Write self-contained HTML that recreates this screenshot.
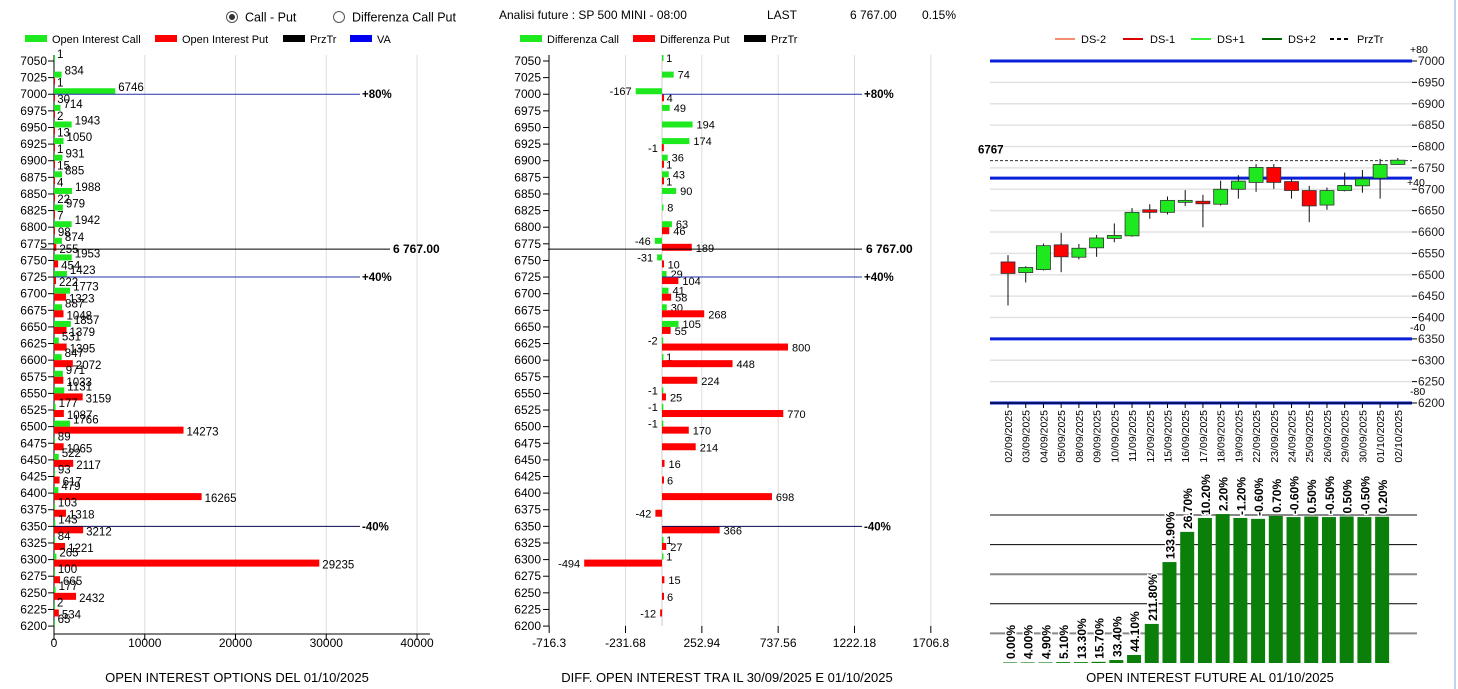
<!DOCTYPE html>
<html><head><meta charset="utf-8"><style>
html,body{margin:0;padding:0;background:#fff;width:1458px;height:689px;overflow:hidden}
svg{display:block;font-family:"Liberation Sans",sans-serif}
</style></head><body>
<svg id="s" width="1458" height="689" viewBox="0 0 1458 689">
<g font-size="12.5" fill="#000">
 <g><circle cx="232" cy="17" r="5.5" fill="#fff" stroke="#555"/><circle cx="232" cy="17" r="3" fill="#333"/><text x="245" y="21.5">Call - Put</text></g>
 <g><circle cx="339" cy="17" r="5.5" fill="#fff" stroke="#555"/><text x="352" y="21.5">Differenza Call Put</text></g>
 <text x="499" y="19" font-size="12">Analisi future : SP 500 MINI - 08:00</text>
 <text x="767" y="19" font-size="12">LAST</text>
 <text x="850" y="19" font-size="12">6 767.00</text>
 <text x="922" y="19" font-size="12">0.15%</text>
</g>
<g font-size="11">
 <rect x="25" y="35" width="22" height="7" fill="#1ee81e"/><text x="52" y="43">Open Interest Call</text>
 <rect x="155" y="35" width="22" height="7" fill="#f00"/><text x="182" y="43">Open Interest Put</text>
 <rect x="283" y="35" width="22" height="7" fill="#000"/><text x="310" y="43">PrzTr</text>
 <rect x="350" y="35" width="22" height="7" fill="#0000f0"/><text x="377" y="43">VA</text>
</g>
<g font-size="11">
 <rect x="520" y="35" width="22" height="7" fill="#1ee81e"/><text x="547" y="43">Differenza Call</text>
 <rect x="633" y="35" width="22" height="7" fill="#f00"/><text x="660" y="43">Differenza Put</text>
 <rect x="744" y="35" width="22" height="7" fill="#000"/><text x="771" y="43">PrzTr</text>
</g>
<g font-size="11">
 <line x1="1055" y1="39" x2="1075" y2="39" stroke="#f09070" stroke-width="2"/><text x="1081" y="43">DS-2</text>
 <line x1="1123" y1="39" x2="1143" y2="39" stroke="#d00" stroke-width="2"/><text x="1150" y="43">DS-1</text>
 <line x1="1191" y1="39" x2="1211" y2="39" stroke="#3e3" stroke-width="2"/><text x="1217" y="43">DS+1</text>
 <line x1="1262" y1="39" x2="1282" y2="39" stroke="#060" stroke-width="2"/><text x="1288" y="43">DS+2</text>
 <line x1="1330" y1="39" x2="1350" y2="39" stroke="#000" stroke-width="2" stroke-dasharray="4,3"/><text x="1357" y="43">PrzTr</text>
</g>
<line x1="1455" y1="0" x2="1455" y2="689" stroke="#7fa7d8"/>
<g id="gL"></g><g id="gM"></g><g id="gR"></g><g id="gB"></g>
<text x="237" y="682" text-anchor="middle" font-size="13">OPEN INTEREST OPTIONS DEL 01/10/2025</text>
<text x="727" y="682" text-anchor="middle" font-size="13">DIFF. OPEN INTEREST TRA IL 30/09/2025 E 01/10/2025</text>
<text x="1210" y="682" text-anchor="middle" font-size="13">OPEN INTEREST FUTURE AL 01/10/2025</text>
</svg>
<script>
const strikes=[7050,7025,7000,6975,6950,6925,6900,6875,6850,6825,6800,6775,6750,6725,6700,6675,6650,6625,6600,6575,6550,6525,6500,6475,6450,6425,6400,6375,6350,6325,6300,6275,6250,6225,6200];
const oiCall=[1,834,6746,714,1943,1050,931,885,1988,979,1942,874,1953,1423,1773,887,1857,531,847,971,1131,177,1766,89,522,93,479,103,143,84,265,100,177,2,65];
const oiPut=[null,1,30,2,13,1,15,4,22,7,98,255,454,222,1323,1048,1379,1395,2072,1033,3159,1087,14273,1065,2117,617,16265,1318,3212,1221,29235,665,2432,534,null];
const diffCall=[1,74,-167,null,49,194,174,36,43,90,8,63,-46,-31,29,41,30,105,-2,1,null,-1,-1,-1,null,null,null,null,null,null,1,1,null,null,null];
const diffPut=[null,null,4,null,null,null,-1,1,1,null,null,46,189,10,104,58,268,55,800,448,224,25,770,170,214,16,6,698,-42,366,27,-494,15,6,-12];
// fix alignment: index map by strike for diffs (as read)
const dCallMap={7050:1,7025:74,7000:-167,6975:49,6950:194,6925:174,6900:36,6875:43,6850:90,6825:8,6800:63,6775:-46,6750:-31,6725:29,6700:41,6675:30,6650:105,6625:-2,6600:1,6550:-1,6525:-1,6500:-1,6325:1,6300:1};
const dPutMap={7000:4,6925:-1,6900:1,6875:1,6800:46,6775:189,6750:10,6725:104,6700:58,6675:268,6650:55,6625:800,6600:448,6575:224,6550:25,6525:770,6500:170,6475:214,6450:16,6425:6,6400:698,6375:-42,6350:366,6325:27,6300:-494,6275:15,6250:6,6225:-12};
const leftTicks=[0,10000,20000,30000,40000];
const midTicks=[-716.3,-231.68,252.94,737.56,1222.18,1706.8];
const przTr=6767;
const vaLevels=[{p:7000,l:"+80%"},{p:6725,l:"+40%"},{p:6350,l:"-40%"}];
const dates=["02/09/2025","03/09/2025","04/09/2025","05/09/2025","08/09/2025","09/09/2025","10/09/2025","11/09/2025","12/09/2025","15/09/2025","16/09/2025","17/09/2025","18/09/2025","19/09/2025","22/09/2025","23/09/2025","24/09/2025","25/09/2025","26/09/2025","29/09/2025","30/09/2025","01/10/2025","02/10/2025"];
const opens=[6530,6505,6512,6570,6541,6563,6585,6591,6652,6646,6670,6672,6665,6700,6716,6751,6718,6697,6663,6697,6708,6726,6758];
const highs=[6546,6520,6573,6598,6572,6593,6620,6656,6665,6683,6698,6687,6720,6733,6759,6759,6724,6708,6704,6739,6745,6771,6773];
const lows=[6428,6482,6510,6506,6536,6542,6576,6589,6631,6641,6661,6611,6662,6678,6694,6701,6678,6623,6652,6695,6692,6678,6757];
const closes=[6503,6517,6568,6542,6562,6586,6592,6646,6646,6674,6674,6666,6700,6719,6751,6716,6697,6661,6697,6709,6724,6758,6768];
const priceTicks=[7000,6950,6900,6850,6800,6750,6700,6650,6600,6550,6500,6450,6400,6350,6300,6250,6200];
const bandLines=[{p:7000,l:"+80"},{p:6726,l:"+40"},{p:6350,l:"-40"},{p:6200,l:"-80"}];
const futOI=[0.02,0.02,0.02,0.03,0.03,0.04,0.1,0.27,1.32,3.41,4.43,4.9,5.03,4.9,4.87,4.97,4.93,4.95,4.93,4.95,4.93,4.94];
const futPct=["0.00%","4.00%","4.90%","5.10%","13.30%","15.70%","33.40%","44.10%","211.80%","133.90%","26.70%","10.20%","2.20%","-1.20%","-0.60%","0.70%","-0.60%","0.50%","-0.50%","0.50%","-0.50%","0.20%"];

const NS="http://www.w3.org/2000/svg";
function mk(p,t,a,txt){const e=document.createElementNS(NS,t);for(const k in a)e.setAttribute(k,a[k]);if(txt!==undefined)e.textContent=txt;p.appendChild(e);return e;}
const yS=s=>61+(7050-s)/25*16.62;

// LEFT
const gL=document.getElementById('gL');
const xL=v=>54+v*0.009075;
leftTicks.forEach(t=>{if(t>0)mk(gL,'line',{x1:xL(t),y1:55,x2:xL(t),y2:634,stroke:'#ddd'});
 mk(gL,'line',{x1:xL(t),y1:634,x2:xL(t),y2:640,stroke:'#000'});
 const e=mk(gL,'text',{x:xL(t),y:647,'text-anchor':'middle','font-size':12},String(t));
 });
mk(gL,'line',{x1:54,y1:55,x2:54,y2:634,stroke:'#000'});
mk(gL,'line',{x1:54,y1:634,x2:430,y2:634,stroke:'#000'});
strikes.forEach((s,i)=>{const y=yS(s);
 mk(gL,'line',{x1:48,y1:y,x2:54,y2:y,stroke:'#000'});
 const t=mk(gL,'text',{x:47,y:y+4,'text-anchor':'end','font-size':12},String(s));
 
 if(oiCall[i]!=null){const b=mk(gL,'rect',{x:54,y:y-6,width:Math.max(1,xL(oiCall[i])-54),height:6,fill:'#1ee81e'});
  
  mk(gL,'text',{x:xL(oiCall[i])+3,y:y-3,'font-size':11.5},String(oiCall[i]));}
 if(oiPut[i]!=null){const b=mk(gL,'rect',{x:54,y:y,width:Math.max(1,xL(oiPut[i])-54),height:7,fill:'#f00'});
  
  mk(gL,'text',{x:xL(oiPut[i])+3,y:y+9,'font-size':11.5},String(oiPut[i]));}
});
const yP=yS(przTr);
mk(gL,'line',{x1:40,y1:yP,x2:390,y2:yP,stroke:'#000'});
mk(gL,'text',{x:393,y:yP+4,'font-size':12,'font-weight':'bold'},"6 767.00");
vaLevels.forEach(v=>{const y=yS(v.p);mk(gL,'line',{x1:54,y1:y,x2:360,y2:y,stroke:v.p==6350?'#0a0a50':'#2233aa'});
 mk(gL,'text',{x:362,y:y+4,'font-size':11.5,'font-weight':'bold'},v.l);});

// MIDDLE
const gM=document.getElementById('gM');
const xM=v=>662+v*0.1575;
midTicks.forEach(t=>{const x=xM(t);
 if(t>-700)mk(gM,'line',{x1:x,y1:55,x2:x,y2:626,stroke:'#ddd'});
 mk(gM,'line',{x1:x,y1:626,x2:x,y2:633,stroke:'#000'});
 const e=mk(gM,'text',{x:x,y:647,'text-anchor':'middle','font-size':12},String(t));
 });
mk(gM,'line',{x1:549,y1:55,x2:549,y2:626,stroke:'#000'});
mk(gM,'line',{x1:662,y1:55,x2:662,y2:626,stroke:'#ccc'});
strikes.forEach(s=>{const y=yS(s);
 mk(gM,'line',{x1:543,y1:y,x2:549,y2:y,stroke:'#000'});
 mk(gM,'text',{x:541,y:y+4,'text-anchor':'end','font-size':12},String(s));
 const c=dCallMap[s],p=dPutMap[s];
 if(c!==undefined){const x1=Math.min(xM(0),xM(c)),w=Math.max(1.5,Math.abs(xM(c)-xM(0)));
  const b=mk(gM,'rect',{x:x1,y:y-6,width:w,height:6,fill:'#1ee81e'});
  
  if(c>=0)mk(gM,'text',{x:xM(c)+4,y:y+1,'font-size':11},String(c));else mk(gM,'text',{x:xM(c)-4,y:y+1,'font-size':11,'text-anchor':'end'},String(c));}
 if(p!==undefined){const x1=Math.min(xM(0),xM(p)),w=Math.max(2,Math.abs(xM(p)-xM(0)));
  const b=mk(gM,'rect',{x:x1,y:y,width:w,height:7,fill:'#f00'});
  
  if(p>=0)mk(gM,'text',{x:xM(p)+4,y:y+8,'font-size':11},String(p));else mk(gM,'text',{x:xM(p)-4,y:y+8,'font-size':11,'text-anchor':'end'},String(p));}
});
mk(gM,'line',{x1:548,y1:yP,x2:862,y2:yP,stroke:'#000'});
mk(gM,'text',{x:866,y:yP+4,'font-size':12,'font-weight':'bold'},"6 767.00");
vaLevels.forEach(v=>{const y=yS(v.p);mk(gM,'line',{x1:662,y1:y,x2:862,y2:y,stroke:v.p==6350?'#0a0a50':'#2233aa'});
 mk(gM,'text',{x:864,y:y+4,'font-size':11.5,'font-weight':'bold'},v.l);});

// RIGHT candles
const gR=document.getElementById('gR');
const yR=p=>61+(7000-p)*0.4275;
const xR=i=>1008+i*17.72;
priceTicks.forEach(p=>{mk(gR,'line',{x1:990,y1:yR(p),x2:1412,y2:yR(p),stroke:'#e2e2e2',"stroke-width":1.5});
 mk(gR,'line',{x1:1412,y1:yR(p),x2:1417,y2:yR(p),stroke:'#000'});
 const e=mk(gR,'text',{x:1418,y:yR(p)+4,'font-size':12,fill:'#222'},String(p));
 });
bandLines.forEach(b=>{mk(gR,'line',{x1:990,y1:yR(b.p),x2:1412,y2:yR(b.p),stroke:'#0a1fd8',"stroke-width":3});
 mk(gR,'text',{x:b.l=="+40"?1407:1410,y:yR(b.p)-(b.l=="+40"?-8:8),'font-size':10.5},b.l);});
mk(gR,'line',{x1:990,y1:yR(przTr),x2:1412,y2:yR(przTr),stroke:'#333','stroke-dasharray':'3,2'});
mk(gR,'text',{x:978,y:yR(przTr)-7,'font-size':11.5,'font-weight':'bold'},"6767");
dates.forEach((d,i)=>{const x=xR(i);
 mk(gR,'line',{x1:x,y1:403,x2:x,y2:408,stroke:'#000'});
 const t=mk(gR,'text',{x:0,y:0,'font-size':10.5,'text-anchor':'end',transform:`translate(${x+4},410) rotate(-90)`},d);
 
 mk(gR,'line',{x1:x,y1:yR(highs[i]),x2:x,y2:yR(lows[i]),stroke:'#111'});
 const up=closes[i]>=opens[i];const top=yR(Math.max(opens[i],closes[i])),bot=yR(Math.min(opens[i],closes[i]));
 const c=mk(gR,'rect',{x:x-7,y:top,width:14,height:Math.max(2,bot-top),fill:up?'#1ee81e':'#f00',stroke:'#333','stroke-width':0.8});
 });
mk(gR,'line',{x1:990,y1:403,x2:1412,y2:403,stroke:'#000'});

// BOTTOM bars
const gB=document.getElementById('gB');
const yB=v=>663-v*29.6;
[[5,'#888',2],[4,'#000',1],[3,'#888',2],[2,'#000',1],[1,'#888',2]].forEach(g=>mk(gB,'line',{x1:990,y1:yB(g[0]),x2:1417,y2:yB(g[0]),stroke:g[1],'stroke-width':g[2]}));
futOI.forEach((v,i)=>{const x=xR(i)+2;const top=yB(v);
 const b=mk(gB,'rect',{x:x-7,y:top,width:14,height:663-top,fill:'#0a800a'});
 
 const tx=mk(gB,'text',{x:0,y:0,'font-size':12,'font-weight':'bold',fill:'#000',transform:`translate(${x+5},${Math.min(top,662)-3}) rotate(-90)`,stroke:'#fff','stroke-width':3,'paint-order':'stroke'},futPct[i]);
 });
</script>
</body></html>
